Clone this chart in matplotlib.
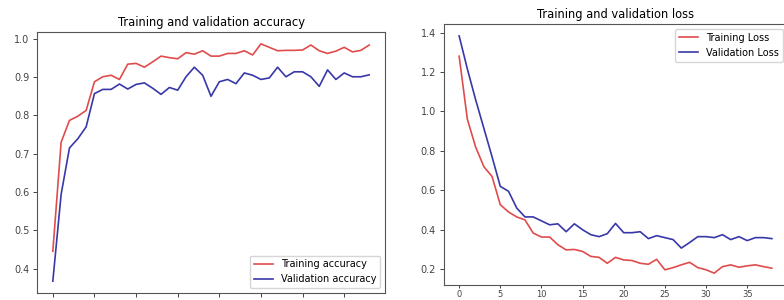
import matplotlib
matplotlib.use("Agg")
import matplotlib.pyplot as plt

# Epochs 0..38
epochs = list(range(39))

train_acc = [0.445, 0.730, 0.787, 0.798, 0.813, 0.888, 0.901, 0.905, 0.894, 0.934,
             0.936, 0.926, 0.940, 0.955, 0.951, 0.948, 0.964, 0.960, 0.969, 0.955,
             0.955, 0.962, 0.962, 0.969, 0.958, 0.987, 0.978, 0.969, 0.970, 0.970,
             0.971, 0.984, 0.969, 0.962, 0.968, 0.978, 0.966, 0.970, 0.984]
val_acc = [0.367, 0.594, 0.715, 0.739, 0.770, 0.857, 0.868, 0.868, 0.882, 0.869,
           0.881, 0.885, 0.871, 0.855, 0.873, 0.866, 0.901, 0.926, 0.905, 0.850,
           0.888, 0.894, 0.883, 0.911, 0.905, 0.894, 0.898, 0.926, 0.901, 0.914,
           0.914, 0.901, 0.876, 0.919, 0.894, 0.911, 0.901, 0.901, 0.906]

train_loss = [1.28, 0.96, 0.82, 0.72, 0.67, 0.527, 0.49, 0.465, 0.45, 0.383,
              0.363, 0.363, 0.324, 0.298, 0.300, 0.290, 0.265, 0.260, 0.230, 0.260,
              0.247, 0.244, 0.230, 0.225, 0.250, 0.197, 0.208, 0.222, 0.235, 0.208,
              0.197, 0.180, 0.213, 0.222, 0.210, 0.217, 0.222, 0.213, 0.205]
val_loss = [1.383, 1.215, 1.060, 0.915, 0.770, 0.620, 0.595, 0.510, 0.465, 0.465,
            0.445, 0.425, 0.430, 0.390, 0.430, 0.400, 0.375, 0.365, 0.380, 0.432,
            0.385, 0.385, 0.390, 0.355, 0.370, 0.360, 0.350, 0.307, 0.335, 0.365,
            0.365, 0.360, 0.375, 0.350, 0.365, 0.345, 0.360, 0.360, 0.355]

RED = "#e04c4c"
BLUE = "#3838a8"

fig = plt.figure(figsize=(7.84, 3.0), dpi=100)

# left panel: accuracy (its x tick labels fall below the visible area)
ax1 = fig.add_axes([37 / 784, 7 / 300, 348 / 784, 261 / 300])
ax1.plot(epochs, train_acc, color=RED, lw=1.2, label="Training accuracy")
ax1.plot(epochs, val_acc, color=BLUE, lw=1.2, label="Validation accuracy")
ax1.set_title("Training and validation accuracy", fontsize=8.3, pad=4)
ax1.legend(loc="lower right", fontsize=7)
ax1.tick_params(axis="x", labelbottom=False)

# right panel: loss
ax2 = fig.add_axes([443.5 / 784, 15 / 300, 344 / 784, 261 / 300])
ax2.plot(epochs, train_loss, color=RED, lw=1.2, label="Training Loss")
ax2.plot(epochs, val_loss, color=BLUE, lw=1.2, label="Validation Loss")
ax2.set_title("Training and validation loss", fontsize=8.3, pad=4)
ax2.legend(loc="upper right", fontsize=7)

for ax in (ax1, ax2):
    ax.set_xticks(range(0, 40, 5))
    ax.tick_params(labelsize=7, length=3, width=0.7, colors="#444444", pad=2.5)
    for s in ax.spines.values():
        s.set_color("#555555")
        s.set_linewidth(0.8)
ax2.tick_params(axis="x", labelsize=6, pad=1, length=2.5)

fig.savefig("out.png", dpi=100)
